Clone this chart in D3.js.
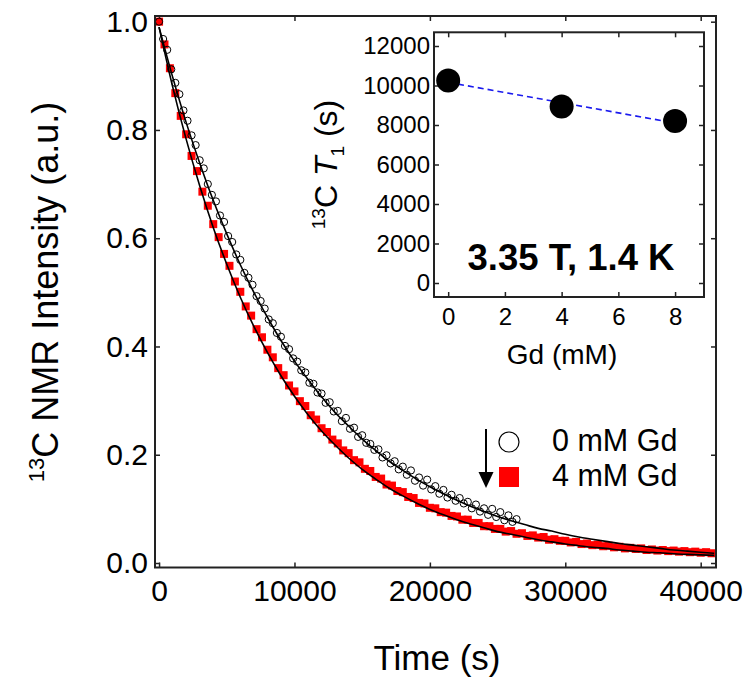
<!DOCTYPE html>
<html><head><meta charset="utf-8">
<script src="https://cdn.jsdelivr.net/npm/d3@7"></script>
<style>body{margin:0;background:#fff}svg{display:block}text{font-family:"Liberation Sans",Arial,sans-serif;fill:#000}</style>
</head><body><svg id="c" width="754" height="687"></svg>
<script>
// ---- main panel data ----
const t4 = [0,400,800,1200,1600,2000,2400,2800,3200,3600,4000,4400,4800,5200,5600,6000,6400,6800,7200,7600,8000,8400,8800,9200,9600,10000,10400,10800,11200,11600,12000,12400,12800,13200,13600,14000,14400,14800,15200,15600,16000,16400,16800,17200,17600,18000,18400,18800,19200,19600,20000,20400,20800,21200,21600,22000,22400,22800,23200,23600,24000,24400,24800,25200,25600,26000,26400,26800,27200,27600,28000,28400,28800,29200,29600,30000,30400,30800,31200,31600,32000,32400,32800,33200,33600,34000,34400,34800,35200,35600,36000,36400,36800,37200,37600,38000,38400,38800,39200,39600,40000,40400,40800];
const y4 = [1.000,0.958,0.914,0.868,0.826,0.792,0.752,0.724,0.686,0.660,0.626,0.602,0.571,0.549,0.520,0.501,0.474,0.457,0.432,0.417,0.394,0.380,0.360,0.347,0.328,0.317,0.299,0.290,0.273,0.265,0.249,0.242,0.228,0.221,0.208,0.203,0.190,0.186,0.174,0.170,0.159,0.156,0.145,0.143,0.133,0.131,0.122,0.120,0.111,0.110,0.102,0.101,0.094,0.093,0.087,0.086,0.080,0.080,0.074,0.074,0.068,0.068,0.063,0.063,0.058,0.059,0.054,0.055,0.050,0.051,0.047,0.048,0.043,0.044,0.041,0.041,0.038,0.039,0.035,0.036,0.033,0.034,0.031,0.032,0.029,0.030,0.027,0.028,0.026,0.027,0.024,0.025,0.023,0.024,0.022,0.023,0.021,0.022,0.020,0.021,0.019,0.020,0.018];
const t0 = [0,300,600,900,1200,1500,1800,2100,2400,2700,3000,3300,3600,3900,4200,4500,4800,5100,5400,5700,6000,6300,6600,6900,7200,7500,7800,8100,8400,8700,9000,9300,9600,9900,10200,10500,10800,11100,11400,11700,12000,12300,12600,12900,13200,13500,13800,14100,14400,14700,15000,15300,15600,15900,16200,16500,16800,17100,17400,17700,18000,18300,18600,18900,19200,19500,19800,20100,20400,20700,21000,21300,21600,21900,22200,22500,22800,23100,23400,23700,24000,24300,24600,24900,25200,25500,25800,26100,26400];
const y0 = [1.000,0.968,0.948,0.912,0.887,0.866,0.836,0.817,0.790,0.772,0.744,0.729,0.700,0.680,0.668,0.642,0.630,0.604,0.593,0.570,0.560,0.536,0.527,0.514,0.493,0.484,0.470,0.450,0.443,0.425,0.418,0.401,0.395,0.378,0.372,0.356,0.352,0.333,0.331,0.315,0.313,0.296,0.297,0.280,0.281,0.262,0.268,0.248,0.250,0.233,0.236,0.222,0.220,0.209,0.210,0.195,0.199,0.184,0.188,0.173,0.178,0.163,0.171,0.152,0.158,0.143,0.154,0.136,0.142,0.128,0.135,0.121,0.126,0.115,0.120,0.110,0.113,0.101,0.108,0.095,0.101,0.089,0.100,0.085,0.094,0.079,0.088,0.076,0.081];
// fit curves
const fitT = [0,1000,2000,3000,4000,5000,6000,7000,8000,9000,10000,11000,12000,13000,14000,15000,16000,17000,18000,19000,20000,21000,22000,23000,24000,25000,26000,27000,28000,29000,30000,31000,32000,33000,34000,35000,36000,37000,38000,39000,40000,41000];
const fit0 = [0.990,0.898,0.814,0.739,0.670,0.608,0.551,0.500,0.454,0.411,0.373,0.339,0.307,0.278,0.253,0.229,0.208,0.188,0.171,0.155,0.141,0.128,0.116,0.105,0.095,0.086,0.078,0.071,0.064,0.059,0.053,0.048,0.044,0.040,0.036,0.033,0.030,0.027,0.024,0.022,0.020,0.018];
const fit4 = [0.990,0.880,0.783,0.697,0.620,0.552,0.491,0.437,0.389,0.346,0.308,0.274,0.244,0.218,0.194,0.173,0.155,0.138,0.124,0.111,0.099,0.089,0.080,0.072,0.065,0.058,0.053,0.048,0.043,0.039,0.035,0.032,0.029,0.027,0.024,0.022,0.020,0.019,0.017,0.016,0.015,0.014];
const xTicks = [0,10000,20000,30000,40000];
const yTicks = [0.0,0.2,0.4,0.6,0.8,1.0];
const legendLabels = ["0 mM Gd","4 mM Gd"];
// ---- inset data ----
const gd = [0,4,8];
const t1 = [10250,8940,8200];
const gdFit = [0,8];
const t1Fit = [10160,8100];
const insetXTicks = [0,2,4,6,8];
const insetYTicks = [0,2000,4000,6000,8000,10000,12000];

const svg = d3.select("#c");
svg.append("rect").attr("width",754).attr("height",687).attr("fill","#fff");

const M = {l:155,r:716,t:16,b:567.5};
const x = d3.scaleLinear().domain([-300,41130]).range([M.l,M.r]);
const y = d3.scaleLinear().domain([-0.0083,1.0105]).range([M.b,M.t]);

const frameCol = "#222";
function styleAxis(g, fs){
  g.select(".domain").remove();
  g.selectAll(".tick line").attr("stroke",frameCol).attr("stroke-width",1.5);
  g.selectAll(".tick text").attr("font-size",fs).attr("fill","#000").attr("font-family","Liberation Sans, Arial, sans-serif");
}
svg.append("g").attr("transform",`translate(0,${M.b})`).call(d3.axisBottom(x).tickValues(xTicks).tickSize(-5).tickPadding(12).tickFormat(d3.format("d"))).call(styleAxis,30);
svg.append("g").attr("transform",`translate(0,${M.t})`).call(d3.axisTop(x).tickValues(xTicks).tickSize(-5).tickFormat("")).call(styleAxis,30);
svg.append("g").attr("transform",`translate(${M.l},0)`).call(d3.axisLeft(y).tickValues(yTicks).tickSize(-5).tickPadding(7).tickFormat(d3.format(".1f"))).call(styleAxis,30);
svg.append("g").attr("transform",`translate(${M.r},0)`).call(d3.axisRight(y).tickValues(yTicks).tickSize(-5).tickFormat("")).call(styleAxis,30);

svg.append("defs").append("clipPath").attr("id","clipMain").append("rect")
  .attr("x",M.l).attr("y",M.t).attr("width",M.r-M.l).attr("height",M.b-M.t);
const plot = svg.append("g").attr("clip-path","url(#clipMain)");

const d4 = t4.map((t,i)=>[t,y4[i]]);
const d0 = t0.map((t,i)=>[t,y0[i]]);
plot.selectAll("rect.sq").data(d4).enter().append("rect").attr("class","sq")
  .attr("x",d=>x(d[0])-4).attr("y",d=>y(d[1])-4).attr("width",8).attr("height",8).attr("fill","#ff0000");
plot.selectAll("circle.oc").data(d0).enter().append("circle").attr("class","oc")
  .attr("cx",d=>x(d[0])).attr("cy",d=>y(d[1])).attr("r",3.6).attr("fill","none").attr("stroke","#000").attr("stroke-width",1);
const line = d3.line().x(d=>x(d[0])).y(d=>y(d[1])).curve(d3.curveMonotoneX);
[fit0,fit4].forEach(f=>{
  plot.append("path").datum(fitT.map((t,i)=>[t,f[i]])).attr("d",line).attr("fill","none").attr("stroke","#000").attr("stroke-width",1.6);
});

svg.append("rect").attr("x",M.l).attr("y",M.t).attr("width",M.r-M.l).attr("height",M.b-M.t)
  .attr("fill","none").attr("stroke",frameCol).attr("stroke-width",2);

// axis titles
svg.append("text").attr("x",437).attr("y",670).attr("text-anchor","middle").attr("font-size",35).text("Time (s)");
const yt = svg.append("text").attr("transform","translate(58,292) rotate(-90)").attr("text-anchor","middle").attr("font-size",36);
yt.append("tspan").attr("font-size",22).attr("dy",-14).text("13");
yt.append("tspan").attr("dy",14).text("C NMR Intensity (a.u.)");

// legend
const lg = svg.append("g");
lg.append("circle").attr("cx",509).attr("cy",442).attr("r",10).attr("fill","none").attr("stroke","#000").attr("stroke-width",1.2);
lg.append("rect").attr("x",499).attr("y",467).attr("width",20).attr("height",20).attr("fill","#ff0000");
lg.selectAll("text.lt").data(legendLabels).enter().append("text").attr("class","lt")
  .attr("x",552).attr("y",(d,i)=>451+i*35).attr("font-size",30.5).text(d=>d);
lg.append("line").attr("x1",486).attr("x2",486).attr("y1",429).attr("y2",474).attr("stroke","#000").attr("stroke-width",2);
lg.append("path").attr("d","M478.5,472 L493.5,472 L486,488 Z").attr("fill","#000");

// ---- inset ----
const I = {l:434,r:704,t:32.3,b:297};
const ix = d3.scaleLinear().domain([-0.5,9.02]).range([I.l,I.r]);
const iy = d3.scaleLinear().domain([-709,12694]).range([I.b,I.t]);
svg.append("rect").attr("x",I.l).attr("y",I.t).attr("width",I.r-I.l).attr("height",I.b-I.t).attr("fill","#fff");
svg.append("g").attr("transform",`translate(0,${I.b})`).call(d3.axisBottom(ix).tickValues(insetXTicks).tickSize(-5).tickPadding(11).tickFormat(d3.format("d"))).call(styleAxis,24);
svg.append("g").attr("transform",`translate(0,${I.t})`).call(d3.axisTop(ix).tickValues(insetXTicks).tickSize(-5).tickFormat("")).call(styleAxis,24);
svg.append("g").attr("transform",`translate(${I.l},0)`).call(d3.axisLeft(iy).tickValues(insetYTicks).tickSize(-5).tickPadding(4).tickFormat(d3.format("d"))).call(styleAxis,24);
svg.append("g").attr("transform",`translate(${I.r},0)`).call(d3.axisRight(iy).tickValues(insetYTicks).tickSize(-5).tickFormat("")).call(styleAxis,24);

svg.append("path").datum(gdFit.map((g,i)=>[g,t1Fit[i]]))
  .attr("d",d3.line().x(d=>ix(d[0])).y(d=>iy(d[1])))
  .attr("fill","none").attr("stroke","#1a1aee").attr("stroke-width",1.6).attr("stroke-dasharray","6,4");
svg.selectAll("circle.ip").data(gd.map((g,i)=>[g,t1[i]])).enter().append("circle").attr("class","ip")
  .attr("cx",d=>ix(d[0])).attr("cy",d=>iy(d[1])).attr("r",12).attr("fill","#000");
svg.append("rect").attr("x",I.l).attr("y",I.t).attr("width",I.r-I.l).attr("height",I.b-I.t)
  .attr("fill","none").attr("stroke",frameCol).attr("stroke-width",2);

svg.append("text").attr("x",571).attr("y",270).attr("text-anchor","middle").attr("font-size",36.5).attr("font-weight","bold").text("3.35 T, 1.4 K");
svg.append("text").attr("x",562).attr("y",364).attr("text-anchor","middle").attr("font-size",28).text("Gd (mM)");
const it = svg.append("text").attr("transform","translate(337,164.5) rotate(-90)").attr("text-anchor","middle").attr("font-size",32);
it.append("tspan").attr("font-size",19).attr("dy",-12).text("13");
it.append("tspan").attr("dy",12).text("C ");
it.append("tspan").attr("font-style","italic").text("T");
it.append("tspan").attr("font-size",19).attr("dy",7).text("1");
it.append("tspan").attr("dy",-7).text(" (s)");
</script></body></html>
